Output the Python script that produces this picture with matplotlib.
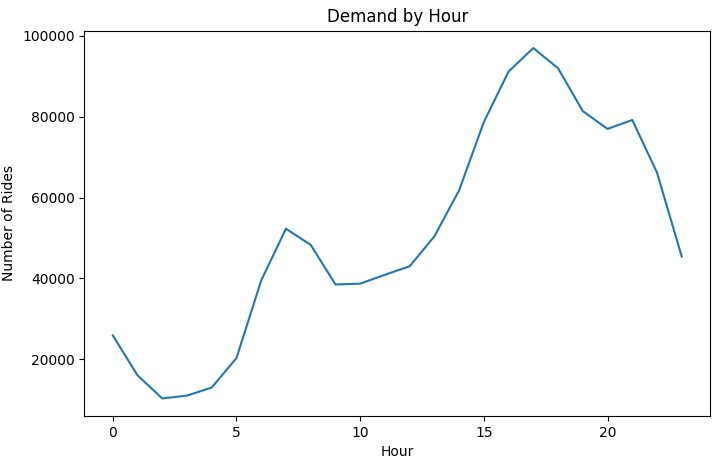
import matplotlib
matplotlib.use("Agg")
import matplotlib.pyplot as plt

hours = list(range(24))
rides = [25900, 16000, 10300, 11000, 13000, 20300, 39500, 52300, 48300, 38500,
         38700, 40900, 43000, 50400, 61800, 78700, 91200, 97000, 92000, 81400,
         77000, 79200, 66200, 45400]

fig, ax = plt.subplots(figsize=(7.21, 4.7), dpi=100)
ax.plot(hours, rides)
ax.set_title("Demand by Hour")
ax.set_xlabel("Hour")
ax.set_ylabel("Number of Rides")
fig.subplots_adjust(left=0.117, right=0.985, top=0.935, bottom=0.115)
fig.savefig("out.png")
